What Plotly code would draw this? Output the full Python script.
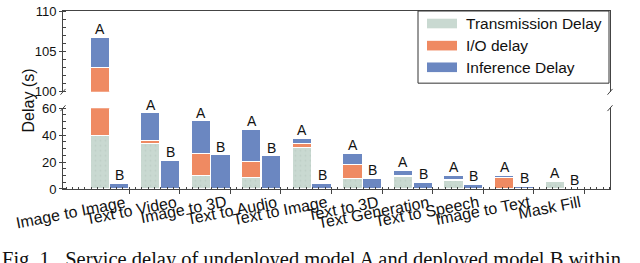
import plotly.graph_objects as go

# ---------------- data ----------------
categories = ["Image to Image", "Text to Video", "Image to 3D", "Text to Audio",
              "Text to Image", "Text to 3D", "Text Generation", "Text to Speech",
              "Image to Text", "Mask Fill"]
trans_A = [39.5, 33.3, 9.3, 8.3, 30.5, 7.1, 8.8, 5.8, 0.0, 5.0]
io_A    = [63.4, 2.0, 16.2, 11.5, 2.8, 10.5, 0.8, 1.0, 7.8, 0.0]
inf_A   = [3.8, 20.7, 24.5, 24.0, 4.0, 8.6, 4.0, 3.0, 2.0, 0.0]
trans_B = [0.0] * 10
io_B    = [0.0] * 10
inf_B   = [3.6, 20.7, 24.8, 24.0, 3.6, 7.6, 4.5, 3.1, 1.7, 0.0]
series_names = ["Transmission Delay", "I/O delay", "Inference Delay"]
model_labels = ["A", "B"]
lower_ticks = [0, 20, 40, 60]
upper_ticks = [100, 105, 110]

# ---------------- style ----------------
colors = ["#c9d9d1", "#ef8a62", "#6b87c1"]
axis_col = "#444444"
FONT = "Liberation Sans, Arial, Helvetica, sans-serif"
L, R, T, B = 63, 610, 4, 189
W, H = R - L, B - T


def px_x(p):
    return (p - L) / W


def px_y(p):
    return (B - p) / H


idx = list(range(len(categories)))
off, bw = 0.195, 0.38
xA = [i - off for i in idx]
xB = [i + off for i in idx]
x_all = xA + xB

fig = go.Figure()
a_series = [trans_A, io_A, inf_A]
b_series = [trans_B, io_B, inf_B]
for k, (name, av, bv, col) in enumerate(zip(series_names, a_series, b_series, colors)):
    for xa, ya in [("x", "y"), ("x2", "y2")]:
        marker = dict(color=col, line=dict(color="white", width=1))
        if k == 0:
            marker["pattern"] = dict(shape=".", fgcolor="#b3c6bc", bgcolor=col,
                                     size=5, solidity=0.12)
        fig.add_trace(go.Bar(x=x_all, y=av + bv, width=bw, name=name,
                             marker=marker, xaxis=xa, yaxis=ya,
                             showlegend=False, hoverinfo="skip"))

tot_A = [a + b + c for a, b, c in zip(trans_A, io_A, inf_A)]
tot_B = [a + b + c for a, b, c in zip(trans_B, io_B, inf_B)]

annotations = []
for xs, tots, lab in [(xA, tot_A, model_labels[0]), (xB, tot_B, model_labels[1])]:
    for x, t in zip(xs, tots):
        yref = "y2" if t > 60 else "y"
        annotations.append(dict(x=x, y=t, xref="x", yref=yref, text=lab,
                                showarrow=False, yanchor="bottom", yshift=-1,
                                font=dict(family=FONT, size=14, color="#111")))

# category labels (rotated, right-aligned)
for i, c in enumerate(categories):
    annotations.append(dict(x=i + 0.38, y=px_y(191), xref="x", yref="paper",
                            text=c, showarrow=False, textangle=-11,
                            xanchor="right", yanchor="top",
                            font=dict(family=FONT, size=16, color="#111")))

# y title
annotations.append(dict(x=px_x(28), y=px_y(97), xref="paper", yref="paper",
                        text="Delay (s)", showarrow=False, textangle=-90,
                        xanchor="center", yanchor="middle",
                        font=dict(family=FONT, size=16, color="#111")))

# caption (cut off at the bottom)
annotations.append(dict(x=px_x(0), y=px_y(248), xref="paper", yref="paper",
                        text="Fig. 1.\u00a0\u00a0Service delay of undeployed model A and deployed model B within",
                        showarrow=False, xanchor="left", yanchor="top",
                        font=dict(family="Liberation Serif, Times New Roman, serif",
                                  size=20.5, color="#111")))

shapes = []
# legend box
shapes.append(dict(type="rect", xref="paper", yref="paper",
                   x0=px_x(418), x1=px_x(609), y0=px_y(79), y1=px_y(4),
                   line=dict(color="#333", width=1), fillcolor="white", layer="above"))
for name, col, ry in zip(series_names, colors, [17, 40, 62.5]):
    shapes.append(dict(type="rect", xref="paper", yref="paper",
                       x0=px_x(427), x1=px_x(457), y0=px_y(ry + 5), y1=px_y(ry - 5),
                       line=dict(width=0), fillcolor=col, layer="above"))
    annotations.append(dict(x=px_x(464), y=px_y(ry), xref="paper", yref="paper",
                            text=name, showarrow=False, xanchor="left", yanchor="middle",
                            font=dict(family=FONT, size=15.5, color="#111")))

# break marks
for bx in [L, R]:
    for by in [88, 105]:
        shapes.append(dict(type="line", xref="paper", yref="paper",
                           x0=px_x(bx - 2.5), y0=px_y(by + 3),
                           x1=px_x(bx + 2.5), y1=px_y(by - 3),
                           line=dict(color=axis_col, width=1)))

common_y = dict(showline=True, mirror=True, linecolor=axis_col, linewidth=1,
                ticks="outside", ticklen=3, tickcolor=axis_col, showgrid=False,
                zeroline=False, tickfont=dict(family=FONT, size=13, color="#111"),
                fixedrange=True)

fig.update_layout(
    width=640, height=263,
    margin=dict(l=L, r=640 - R, t=T, b=263 - B),
    paper_bgcolor="white", plot_bgcolor="white",
    barmode="stack", bargap=0,
    showlegend=False,
    xaxis=dict(domain=[0, 1], anchor="y", range=[-0.93, 9.89],
               showline=True, linecolor=axis_col, linewidth=1,
               ticks="outside", ticklen=4, tickcolor=axis_col,
               tickmode="array", tickvals=[i + 0.38 for i in idx],
               showticklabels=False, showgrid=False, zeroline=False,
               minor=dict(ticks="inside", tick0=0.38, dtick=0.125, ticklen=2.5,
                          tickcolor=axis_col, showgrid=False),
               fixedrange=True),
    xaxis2=dict(domain=[0, 1], anchor="y2", matches="x", side="top",
                showline=True, linecolor=axis_col, linewidth=1, ticks="",
                showticklabels=False, showgrid=False, zeroline=False,
                fixedrange=True),
    yaxis=dict(domain=[0, px_y(105)], anchor="x", range=[0, 60],
               tickmode="array", tickvals=lower_ticks,
               minor=dict(ticks="inside", dtick=5, ticklen=2.5, tickcolor=axis_col,
                          showgrid=False),
               **common_y),
    yaxis2=dict(domain=[px_y(88), 1], anchor="x2", range=[100, 110],
                tickmode="array", tickvals=upper_ticks,
                minor=dict(ticks="inside", dtick=1, ticklen=2.5, tickcolor=axis_col,
                           showgrid=False),
                **common_y),
    annotations=annotations,
    shapes=shapes,
)

fig.write_html("out.html", config={"displayModeBar": False},
               post_script="document.body.style.margin='0';document.body.style.overflow='hidden';")
